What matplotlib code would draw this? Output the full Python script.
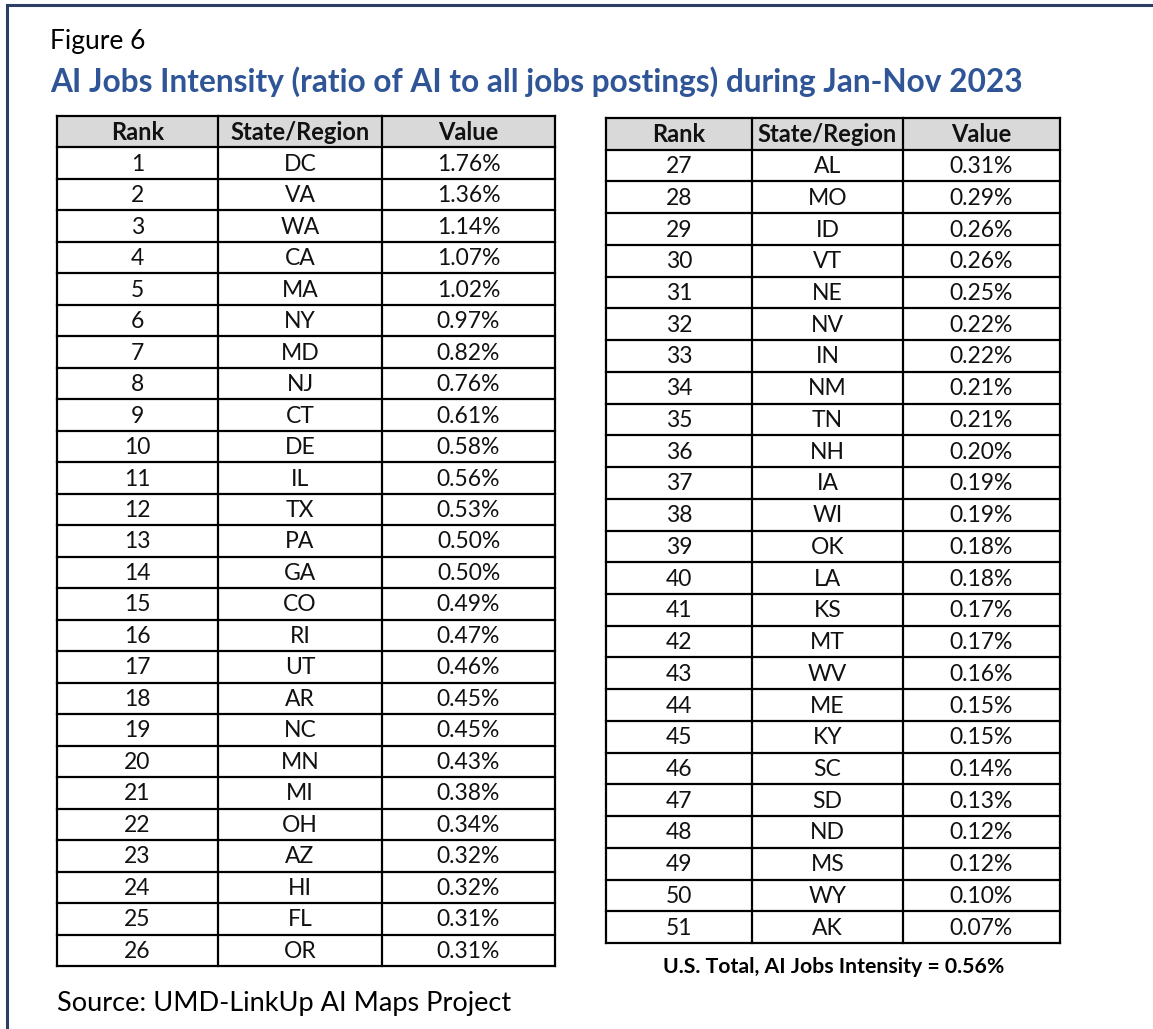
import matplotlib.pyplot as plt
from matplotlib.patches import Rectangle

ranks = list(range(1, 52))
states = ['DC', 'VA', 'WA', 'CA', 'MA', 'NY', 'MD', 'NJ', 'CT', 'DE',
          'IL', 'TX', 'PA', 'GA', 'CO', 'RI', 'UT', 'AR', 'NC', 'MN',
          'MI', 'OH', 'AZ', 'HI', 'FL', 'OR',
          'AL', 'MO', 'ID', 'VT', 'NE', 'NV', 'IN', 'NM', 'TN', 'NH',
          'IA', 'WI', 'OK', 'LA', 'KS', 'MT', 'WV', 'ME', 'KY', 'SC',
          'SD', 'ND', 'MS', 'WY', 'AK']
values = [1.76, 1.36, 1.14, 1.07, 1.02, 0.97, 0.82, 0.76, 0.61, 0.58,
          0.56, 0.53, 0.50, 0.50, 0.49, 0.47, 0.46, 0.45, 0.45, 0.43,
          0.38, 0.34, 0.32, 0.32, 0.31, 0.31,
          0.31, 0.29, 0.26, 0.26, 0.25, 0.22, 0.22, 0.21, 0.21, 0.20,
          0.19, 0.19, 0.18, 0.18, 0.17, 0.17, 0.16, 0.15, 0.15, 0.14,
          0.13, 0.12, 0.12, 0.10, 0.07]
headers = ['Rank', 'State/Region', 'Value']
us_total = 0.56

FONT = ['Lato', 'DejaVu Sans']
W, H = 1153, 1029


def draw_table(ax, rows, cols, top, bottom):
    n = len(rows) + 1
    rh = (bottom - top) / n
    ax.add_patch(Rectangle((cols[0], top), cols[-1] - cols[0], rh,
                           facecolor='#d9d9d9', edgecolor='none'))
    for j, h in enumerate(headers):
        ax.text((cols[j] + cols[j + 1]) / 2, top + rh / 2 + 1, h,
                ha='center', va='center', fontsize=17, fontweight='bold',
                family=FONT, color='#111111')
    for i, row in enumerate(rows):
        yc = top + rh * (i + 1.5) + 1
        for j, cell in enumerate(row):
            ax.text((cols[j] + cols[j + 1]) / 2, yc, cell,
                    ha='center', va='center', fontsize=16.5, family=FONT,
                    color='#111111')
    for i in range(n + 1):
        y = top + rh * i
        ax.plot([cols[0], cols[-1]], [y, y], color='black', lw=1.6,
                solid_capstyle='projecting')
    for x in cols:
        ax.plot([x, x], [top, bottom], color='black', lw=1.6,
                solid_capstyle='projecting')


def main():
    fig = plt.figure(figsize=(W / 100, H / 100), dpi=100)
    ax = fig.add_axes([0, 0, 1, 1])
    ax.set_xlim(0, W)
    ax.set_ylim(H, 0)
    ax.axis('off')

    # outer frame (top and left only visible)
    ax.plot([7, W], [5, 5], color='#2b3f66', lw=2.2)
    ax.plot([7, 7], [5, H], color='#2b3f66', lw=2.2)

    ax.text(50, 42, 'Figure 6', fontsize=19, family=FONT, va='center',
            ha='left', color='black')
    ax.text(50, 82, 'AI Jobs Intensity (ratio of AI to all jobs postings) '
            'during Jan-Nov 2023', fontsize=22.8, fontweight='bold',
            family=FONT, va='center', ha='left', color='#2f5597')

    rows = [(str(r), s, f'{v:.2f}%') for r, s, v in zip(ranks, states, values)]
    draw_table(ax, rows[:26], [57, 218, 382, 555], 116, 966)
    draw_table(ax, rows[26:], [606, 752, 903, 1060], 118, 943)

    ax.text(834, 967, f'U.S. Total, AI Jobs Intensity = {us_total:.2f}%',
            fontsize=15.3, fontweight='bold', family=FONT, ha='center',
            va='center', color='black')
    ax.text(57, 1003, 'Source: UMD-LinkUp AI Maps Project', fontsize=19.5,
            family=FONT, ha='left', va='center', color='black')

    fig.savefig('out.png', dpi=100)


if __name__ == '__main__':
    main()
